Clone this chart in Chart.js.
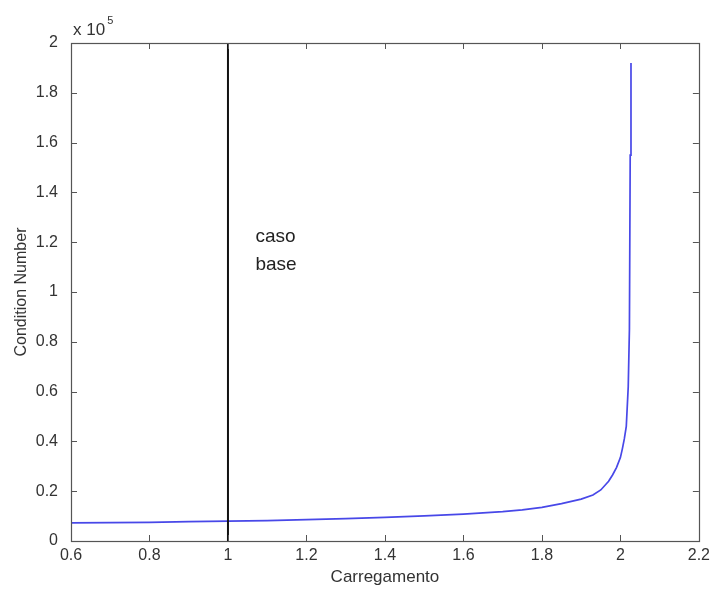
<!DOCTYPE html>
<html>
<head>
<meta charset="utf-8">
<script src="https://cdn.jsdelivr.net/npm/chart.js@4/dist/chart.umd.min.js"></script>
<style>
html,body{margin:0;padding:0;background:#fff;}
canvas{display:block;}
</style>
</head>
<body>
<canvas id="c" width="715" height="591"></canvas>
<script>
// Data
const loadX = [0.6, 0.7, 0.8, 0.9, 1.0, 1.1, 1.2, 1.3, 1.4, 1.5, 1.6, 1.7, 1.75, 1.8, 1.85, 1.9, 1.93, 1.95, 1.97, 1.98, 1.99, 2.0, 2.005, 2.01, 2.015, 2.02, 2.023, 2.025, 2.027];
const condY = [7300, 7400, 7500, 7800, 8000, 8200, 8600, 9000, 9500, 10100, 10800, 11800, 12500, 13500, 15000, 16800, 18500, 20500, 24000, 26500, 29500, 33500, 37000, 41000, 46000, 62000, 85000, 155000, 192000];
const baseX = [1, 1];
const baseY = [0, 200000];
const xTickValues = [0.6, 0.8, 1, 1.2, 1.4, 1.6, 1.8, 2, 2.2];
const yTickValues = [0, 20000, 40000, 60000, 80000, 100000, 120000, 140000, 160000, 180000, 200000];
const annotText = ["caso", "base"];
const annotAt = {x: 1.07, y: 122000};

const FONT = "'Liberation Sans', Arial, sans-serif";
const TXT = '#333333';

const boxTicks = {
  id: 'boxTicks',
  afterDatasetsDraw(chart) {
    const {ctx, chartArea: a, scales: {x, y}} = chart;
    ctx.save();
    ctx.strokeStyle = '#555';
    ctx.lineWidth = 1;
    ctx.beginPath();
    xTickValues.forEach(v => {
      const px = Math.round(x.getPixelForValue(v)) + 0.5;
      ctx.moveTo(px, a.bottom); ctx.lineTo(px, a.bottom - 6);
      ctx.moveTo(px, a.top); ctx.lineTo(px, a.top + 6);
    });
    yTickValues.forEach(v => {
      const py = Math.round(y.getPixelForValue(v)) + 0.5;
      ctx.moveTo(a.left, py); ctx.lineTo(a.left + 6, py);
      ctx.moveTo(a.right, py); ctx.lineTo(a.right - 6, py);
    });
    ctx.stroke();
    ctx.lineWidth = 1.2;
    ctx.strokeRect(Math.round(a.left) + 0.5, Math.round(a.top) + 0.5, Math.round(a.right - a.left), Math.round(a.bottom - a.top));
    // annotation text
    ctx.fillStyle = '#222';
    ctx.font = '19px ' + FONT;
    ctx.textBaseline = 'middle';
    ctx.textAlign = 'left';
    const tx = x.getPixelForValue(annotAt.x);
    const ty = y.getPixelForValue(annotAt.y);
    annotText.forEach((t, i) => ctx.fillText(t, tx, ty + i * 28));
    // exponent label
    ctx.fillStyle = TXT;
    ctx.font = '17px ' + FONT;
    ctx.textBaseline = 'alphabetic';
    ctx.fillText('x 10', a.left + 2, a.top - 8);
    const w = ctx.measureText('x 10').width;
    ctx.font = '11px ' + FONT;
    ctx.fillText('5', a.left + 4 + w, a.top - 19);
    ctx.restore();
  }
};

new Chart(document.getElementById('c'), {
  type: 'scatter',
  data: {
    datasets: [
      {
        data: loadX.map((v, i) => ({x: v, y: condY[i]})),
        showLine: true, borderColor: 'rgb(72,72,232)', borderWidth: 1.7,
        pointRadius: 0, tension: 0, order: 2
      },
      {
        data: baseX.map((v, i) => ({x: v, y: baseY[i]})),
        showLine: true, borderColor: '#111', borderWidth: 2,
        pointRadius: 0, tension: 0, order: 1
      }
    ]
  },
  options: {
    responsive: false,
    animation: false,
    devicePixelRatio: 1,
    layout: {padding: {top: 43, right: 15, left: 0, bottom: 0}},
    plugins: {legend: {display: false}, tooltip: {enabled: false}},
    scales: {
      x: {
        type: 'linear', min: 0.6, max: 2.2,
        afterBuildTicks: s => { s.ticks = xTickValues.map(v => ({value: v})); },
        afterFit: s => { s.height = 50; },
        grid: {display: true, drawOnChartArea: false, drawTicks: false},
        border: {display: false},
        ticks: {
          autoSkip: false, maxRotation: 0, padding: 5, color: TXT,
          font: {size: 16, family: FONT},
          callback: v => String(Number(v.toFixed(1)))
        },
        title: {display: true, text: 'Carregamento', color: TXT, font: {size: 17, family: FONT}, padding: {top: 0, bottom: 3}}
      },
      y: {
        type: 'linear', min: 0, max: 200000,
        afterBuildTicks: s => { s.ticks = yTickValues.map(v => ({value: v})); },
        afterFit: s => { s.width = 71; },
        grid: {display: true, drawOnChartArea: false, drawTicks: false},
        border: {display: false},
        ticks: {
          autoSkip: false, padding: 13, color: TXT,
          font: {size: 16, family: FONT},
          callback: v => String(Number((v / 100000).toFixed(1)))
        },
        title: {display: true, text: 'Condition Number', color: TXT, font: {size: 16, family: FONT}, padding: {top: 12, bottom: 0}}
      }
    }
  },
  plugins: [boxTicks]
});
</script>
</body>
</html>
